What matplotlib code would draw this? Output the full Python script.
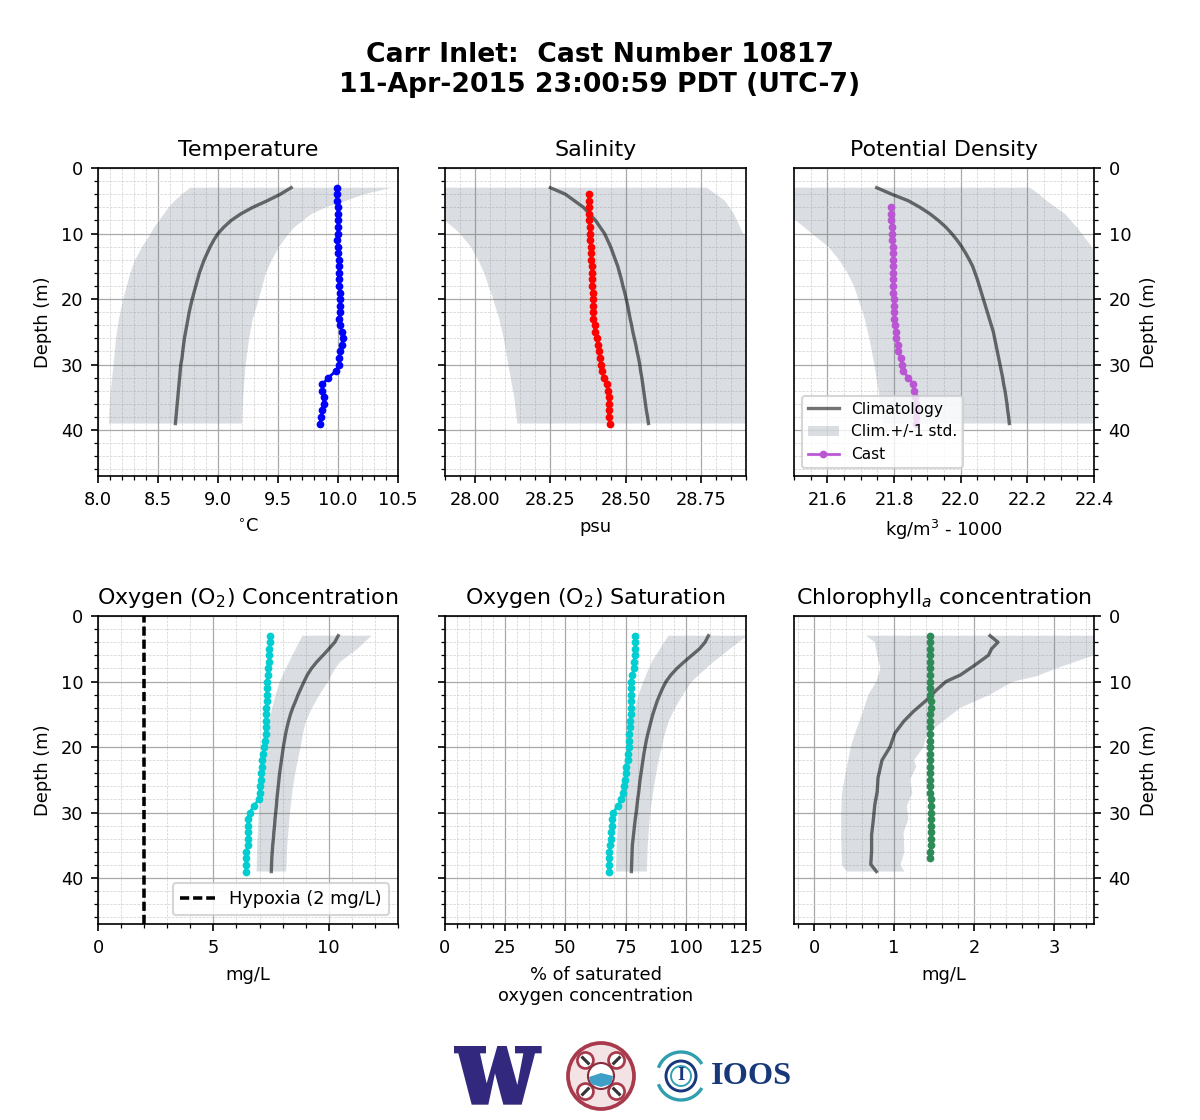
import numpy as np
import matplotlib
matplotlib.use('Agg')
import matplotlib.pyplot as plt
from matplotlib.patches import Circle, Arc, Polygon
from matplotlib.ticker import AutoMinorLocator

# cast depths, one reading per metre
temp_depth = np.arange(3, 40)
temp_cast = [9.99, 9.99, 9.99, 10.0, 10.0, 10.0, 10.0, 10.0, 9.99, 10.0,
             10.0, 10.01, 10.01, 10.01, 10.01, 10.01, 10.02, 10.02, 10.02, 10.02,
             10.01, 10.02, 10.03, 10.04, 10.03, 10.02, 10.01, 10.01, 9.98, 9.92,
             9.87, 9.87, 9.88, 9.88, 9.87, 9.86, 9.85]
sal_depth = np.arange(4, 40)
sal_cast = [28.378, 28.378, 28.378, 28.378, 28.378, 28.381, 28.381, 28.381, 28.386, 28.386,
            28.386, 28.388, 28.388, 28.388, 28.389, 28.391, 28.391, 28.393, 28.393, 28.393,
            28.397, 28.399, 28.404, 28.408, 28.411, 28.414, 28.417, 28.42, 28.427, 28.438,
            28.441, 28.444, 28.444, 28.444, 28.444, 28.449]
dens_depth = np.arange(6, 40)
dens_cast = [21.792, 21.792, 21.792, 21.795, 21.795, 21.795, 21.796, 21.798, 21.798, 21.798,
             21.798, 21.798, 21.798, 21.798, 21.799, 21.80, 21.801, 21.801, 21.803, 21.805,
             21.807, 21.811, 21.813, 21.82, 21.823, 21.828, 21.843, 21.858, 21.861, 21.863,
             21.865, 21.866, 21.866, 21.866]
oxy_depth = np.arange(3, 40)
oxy_cast = [7.45, 7.45, 7.43, 7.43, 7.42, 7.38, 7.36, 7.33, 7.33, 7.33,
            7.33, 7.30, 7.30, 7.28, 7.26, 7.26, 7.22, 7.19, 7.14, 7.12,
            7.09, 7.06, 7.06, 7.01, 7.01, 6.96, 6.75, 6.57, 6.49, 6.51,
            6.51, 6.51, 6.48, 6.42, 6.41, 6.42, 6.41]
sat_depth = np.arange(3, 40)
sat_cast = [79.1, 79.1, 78.9, 78.8, 78.5, 78.4, 77.8, 77.4, 77.4, 77.4,
            77.4, 77.3, 77.3, 76.9, 76.7, 76.6, 76.5, 76.5, 75.9, 75.8,
            75.3, 75.1, 74.8, 74.4, 74.1, 73.1, 71.7, 69.9, 69.3, 69.3,
            69.1, 69.0, 68.6, 68.1, 67.9, 67.9, 67.9]
chl_depth = np.arange(3, 38)
chl_cast = [1.45, 1.45, 1.45, 1.45, 1.45, 1.45, 1.45, 1.45, 1.45, 1.45,
            1.46, 1.46, 1.45, 1.45, 1.45, 1.45, 1.45, 1.45, 1.45, 1.45,
            1.45, 1.45, 1.45, 1.45, 1.45, 1.46, 1.46, 1.46, 1.46, 1.46,
            1.46, 1.46, 1.46, 1.45, 1.45]

# climatology mean, read at each metre
clim_depth = np.arange(3, 40)
temp_clim = [9.61, 9.52, 9.41, 9.29, 9.19, 9.11, 9.05, 9.0, 8.965, 8.935,
             8.91, 8.885, 8.865, 8.845, 8.83, 8.815, 8.80, 8.785, 8.772, 8.76,
             8.75, 8.74, 8.73, 8.72, 8.713, 8.706, 8.70, 8.69, 8.685, 8.68,
             8.675, 8.67, 8.665, 8.66, 8.655, 8.65, 8.645]
sal_clim = [28.25, 28.30, 28.33, 28.36, 28.38, 28.40, 28.415, 28.43, 28.44, 28.45,
            28.458, 28.466, 28.474, 28.48, 28.486, 28.491, 28.497, 28.502, 28.507, 28.511,
            28.515, 28.52, 28.524, 28.529, 28.534, 28.538, 28.543, 28.547, 28.55, 28.554,
            28.557, 28.56, 28.563, 28.566, 28.569, 28.573, 28.576]
dens_clim = [21.748, 21.793, 21.843, 21.878, 21.908, 21.933, 21.955, 21.973, 21.989, 22.003,
             22.015, 22.026, 22.036, 22.043, 22.05, 22.056, 22.062, 22.068, 22.074, 22.08,
             22.086, 22.092, 22.098, 22.102, 22.106, 22.11, 22.114, 22.118, 22.122, 22.126,
             22.129, 22.133, 22.136, 22.139, 22.141, 22.144, 22.146]
oxy_clim = [10.41, 10.26, 10.01, 9.75, 9.48, 9.25, 9.07, 8.93, 8.80, 8.67,
            8.56, 8.44, 8.34, 8.26, 8.19, 8.13, 8.08, 8.03, 7.99, 7.95,
            7.91, 7.87, 7.84, 7.81, 7.78, 7.75, 7.73, 7.70, 7.67, 7.65,
            7.62, 7.60, 7.57, 7.55, 7.53, 7.52, 7.51]
sat_clim = [109.4, 108, 105.7, 102.5, 99.3, 96.3, 93.8, 91.8, 90.4, 89.2,
            88.1, 87.2, 86.3, 85.6, 84.9, 84.2, 83.6, 83.1, 82.6, 82.2,
            81.8, 81.4, 81, 80.7, 80.4, 80, 79.7, 79.4, 79, 78.7,
            78.4, 78.1, 77.8, 77.7, 77.6, 77.5, 77.4]
chl_clim_depth = [3, 4, 5, 6, 7.5, 9, 10, 11.3, 12.8, 14.6, 16.1, 17.9, 20, 22, 24.7, 26.8, 28.8, 31.3, 33.4, 35.9, 37.9, 39]
chl_clim = [2.2, 2.3, 2.22, 2.18, 2.01, 1.83, 1.65, 1.53, 1.41, 1.24, 1.12, 1.01, 0.95, 0.85, 0.8, 0.79, 0.76, 0.74, 0.72, 0.72, 0.71, 0.78]

# climatology +/- 1 std
std_depth = [3, 4, 5, 6, 7, 8, 9, 10, 12, 14, 16, 18, 20, 23, 26, 30, 35, 39]
temp_lo = [8.77, 8.70, 8.64, 8.59, 8.55, 8.51, 8.47, 8.44, 8.37, 8.31, 8.27, 8.24, 8.21, 8.175, 8.15, 8.13, 8.10, 8.09]
temp_hi = [10.45, 10.22, 10.07, 9.9, 9.78, 9.71, 9.64, 9.59, 9.51, 9.45, 9.40, 9.37, 9.34, 9.29, 9.26, 9.23, 9.21, 9.20]
sal_lo = [27.6, 27.68, 27.75, 27.82, 27.88, 27.9, 27.925, 27.95, 27.985, 28.01, 28.03, 28.045, 28.06, 28.08, 28.095, 28.11, 28.13, 28.14]
sal_hi = [28.77, 28.80, 28.83, 28.845, 28.86, 28.87, 28.88, 28.89, 28.93, 28.96, 28.98, 29.0, 29.02, 29.04, 29.05, 29.06, 29.08, 29.10]
dens_lo = [21.3, 21.35, 21.4, 21.45, 21.49, 21.505, 21.53, 21.553, 21.603, 21.635, 21.66, 21.68, 21.693, 21.712, 21.726, 21.741, 21.757, 21.768]
dens_hi = [22.208, 22.235, 22.258, 22.285, 22.313, 22.33, 22.348, 22.363, 22.393, 22.42, 22.45, 22.48, 22.5, 22.52, 22.54, 22.56, 22.58, 22.6]
oxy_lo = [8.86, 8.71, 8.57, 8.42, 8.28, 8.14, 8.01, 7.88, 7.7, 7.55, 7.42, 7.31, 7.22, 7.11, 7.02, 6.97, 6.9, 6.87]
oxy_hi = [11.86, 11.55, 11.25, 10.87, 10.5, 10.28, 10.12, 9.97, 9.6, 9.28, 9.02, 8.88, 8.78, 8.6, 8.45, 8.32, 8.2, 8.16]
sat_lo = [92.8, 91, 89.3, 87.6, 85.9, 84.7, 83.5, 82.4, 80.4, 79, 77.6, 76.5, 75.5, 74.2, 73.1, 72, 71.3, 71]
sat_hi = [125.5, 121.9, 118.4, 115, 111.5, 108.4, 105.4, 102.5, 98.8, 95.6, 93, 91.3, 90, 88.2, 86.8, 85.2, 84.2, 83.8]
chl_lo_depth = [3, 4, 6, 8, 10, 12, 15, 18, 20, 23, 27, 30, 34, 38, 39]
chl_lo = [0.65, 0.76, 0.79, 0.83, 0.78, 0.68, 0.6, 0.51, 0.46, 0.41, 0.35, 0.34, 0.34, 0.35, 0.41]
chl_hi_depth = [3, 5, 6, 8, 9.2, 10, 12, 14, 16, 18, 20, 22, 23, 25, 27, 29, 31, 33, 36, 38, 39]
chl_hi = [4.6, 4.0, 3.5, 3.03, 2.78, 2.49, 2.2, 1.83, 1.62, 1.41, 1.37, 1.25, 1.28, 1.2, 1.23, 1.16, 1.18, 1.12, 1.13, 1.08, 1.13]

hypoxia_level = 2
title_text = 'Carr Inlet:  Cast Number 10817\n11-Apr-2015 23:00:59 PDT (UTC-7)'

W, H = 1200, 1120
GREY = '#6f7d8c'

plt.rc('xtick', labelsize=8.5)
plt.rc('ytick', labelsize=8.5)


def make_axes(fig, x0, y0, x1, y1):
    # pixel box measured from the top left corner of the figure
    return fig.add_axes([x0 / W, 1 - y1 / H, (x1 - x0) / W, (y1 - y0) / H])


def style_axes(ax, title, xlabel, xlim, xticks, side):
    ax.set_title(title, fontsize=10.6, pad=6)
    ax.set_xlabel(xlabel, fontsize=8.6, labelpad=4.5)
    ax.set_xlim(xlim)
    ax.set_xticks(xticks)
    ax.set_ylim(47, 0)
    ax.set_yticks([0, 10, 20, 30, 40])
    ax.xaxis.set_minor_locator(AutoMinorLocator())
    ax.yaxis.set_minor_locator(AutoMinorLocator())
    ax.set_axisbelow(True)
    ax.grid(which='major', color='#a8a8a8', lw=0.6)
    ax.grid(which='minor', color='#d2d2d2', lw=0.35, ls='--')
    if side == 'left':
        ax.set_ylabel('Depth (m)', fontsize=8.6)
    elif side == 'middle':
        ax.tick_params(axis='y', which='both', labelleft=False)
    else:
        ax.yaxis.tick_right()
        ax.yaxis.set_label_position('right')
        ax.set_ylabel('Depth (m)', fontsize=8.6)


def draw_profile(ax, lo_depth, lo, hi_depth, hi, clim_z, clim, cast_z, cast, color):
    ax.fill(np.r_[lo, hi[::-1]], np.r_[lo_depth, hi_depth[::-1]],
            color=GREY, alpha=0.25, lw=0, label='Clim.+/-1 std.')
    ax.plot(clim, clim_z, color='k', alpha=0.55, lw=1.6, label='Climatology')
    ax.plot(cast, cast_z, color=color, marker='o', ms=2.7, lw=1.3, label='Cast')


fig = plt.figure(figsize=(8, 1120 / 150), dpi=150)
fig.text(0.5, 1 - 70 / H, title_text, ha='center', va='center', fontsize=12.8, fontweight='bold')

ax1 = make_axes(fig, 98, 168, 398, 476)
draw_profile(ax1, std_depth, temp_lo, std_depth, temp_hi, clim_depth, temp_clim, temp_depth, temp_cast, 'blue')
style_axes(ax1, 'Temperature', r'$^{\circ}$C', (8.0, 10.5), np.arange(8, 10.6, 0.5), 'left')

ax2 = make_axes(fig, 445, 168, 746, 476)
draw_profile(ax2, std_depth, sal_lo, std_depth, sal_hi, clim_depth, sal_clim, sal_depth, sal_cast, 'red')
style_axes(ax2, 'Salinity', 'psu', (27.9, 28.9), [28.0, 28.25, 28.5, 28.75], 'middle')
ax2.set_xticklabels(['28.00', '28.25', '28.50', '28.75'])

ax3 = make_axes(fig, 794, 168, 1094, 476)
draw_profile(ax3, std_depth, dens_lo, std_depth, dens_hi, clim_depth, dens_clim, dens_depth, dens_cast, 'mediumorchid')
style_axes(ax3, 'Potential Density', r'kg/m$^3$ - 1000', (21.5, 22.4), np.arange(21.6, 22.41, 0.2), 'right')
handles, labels = ax3.get_legend_handles_labels()
order = [labels.index(name) for name in ['Climatology', 'Clim.+/-1 std.', 'Cast']]
ax3.legend([handles[i] for i in order], [labels[i] for i in order], loc='lower left', fontsize=7.4)

ax4 = make_axes(fig, 98, 616, 398, 924)
draw_profile(ax4, std_depth, oxy_lo, std_depth, oxy_hi, clim_depth, oxy_clim, oxy_depth, oxy_cast, 'darkturquoise')
line = ax4.axvline(hypoxia_level, color='k', lw=1.7, dashes=(2.6, 1.1))
style_axes(ax4, r'Oxygen (O$_2$) Concentration', 'mg/L', (0, 13), [0, 5, 10], 'left')
ax4.legend([line], ['Hypoxia (2 mg/L)'], loc='lower right', fontsize=8.5)

ax5 = make_axes(fig, 445, 616, 746, 924)
draw_profile(ax5, std_depth, sat_lo, std_depth, sat_hi, clim_depth, sat_clim, sat_depth, sat_cast, 'darkturquoise')
style_axes(ax5, r'Oxygen (O$_2$) Saturation', '% of saturated\noxygen concentration', (0, 125), np.arange(0, 126, 25), 'middle')

ax6 = make_axes(fig, 794, 616, 1094, 924)
draw_profile(ax6, chl_lo_depth, chl_lo, chl_hi_depth, chl_hi, chl_clim_depth, chl_clim, chl_depth, chl_cast, 'seagreen')
style_axes(ax6, r'Chlorophyll$_a$ concentration', 'mg/L', (-0.25, 3.5), [0, 1, 2, 3], 'right')

# logos along the bottom, drawn in figure pixels
logo = fig.add_axes([0, 0, 1, 1], zorder=-1)
logo.set_xlim(0, W)
logo.set_ylim(H, 0)
logo.axis('off')

w_shape = np.array([(42, 48), (138, 48), (138, 70), (120, 70), (140, 160), (172, 48), (200, 48),
                    (232, 165), (250, 70), (225, 70), (225, 48), (305, 48), (305, 70), (285, 70),
                    (245, 224), (190, 224), (165, 130), (145, 224), (95, 224), (55, 70), (42, 70)])
logo.add_patch(Polygon(w_shape / 3 + (440, 1030), fc='#32297f', ec='none'))

red = '#a83a4c'
logo.add_patch(Circle((601, 1076), 33, fc='#f3e3e5', ec=red, lw=1.8))
for angle in range(0, 360, 90):
    a = np.deg2rad(angle + 45)
    cx, cy = 601 + 22 * np.cos(a), 1076 + 22 * np.sin(a)
    logo.add_patch(Circle((cx, cy), 8, fc='white', ec=red, lw=1.3))
    logo.plot([cx - 4 * np.sin(a + 1.57), cx + 4 * np.sin(a + 1.57)],
              [cy + 4 * np.cos(a + 1.57), cy - 4 * np.cos(a + 1.57)], color='#333333', lw=1.5)
logo.add_patch(Circle((601, 1076), 13, fc='white', ec='#8a2c3c', lw=1))
logo.add_patch(Polygon([(589, 1077), (601, 1073), (613, 1076), (611, 1084), (601, 1087), (591, 1084)], fc='#3f9fc6', ec='none'))

teal = '#2f9fb0'
navy = '#17387a'
logo.add_patch(Arc((681, 1076), 48, 48, theta1=200, theta2=330, color=teal, lw=1.6))
logo.add_patch(Arc((681, 1076), 48, 48, theta1=30, theta2=160, color=teal, lw=1.6))
logo.add_patch(Circle((681, 1076), 15, fc='white', ec=navy, lw=1.4))
logo.add_patch(Circle((681, 1076), 10, fc='white', ec=teal, lw=0.9))
logo.text(681, 1076, 'I', ha='center', va='center', fontsize=9, fontweight='bold',
          family='Liberation Serif', color=navy)
logo.text(751, 1076, 'IOOS', ha='center', va='center', fontsize=15.5, fontweight='bold',
          family='Liberation Serif', color=navy)

fig.savefig('out.png', dpi=150)
